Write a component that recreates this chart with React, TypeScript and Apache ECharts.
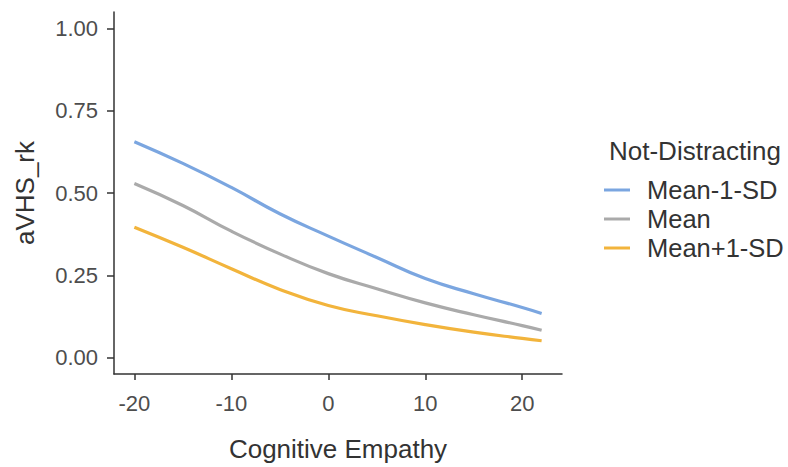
import React, { useEffect, useRef } from "react";
import * as echarts from "echarts";

const xValues = [-20, -15, -10, -5, 0, 5, 10, 15, 20, 22];
const meanMinus1SD = [0.656, 0.59, 0.517, 0.437, 0.369, 0.304, 0.24, 0.194, 0.152, 0.134];
const meanValues = [0.529, 0.462, 0.384, 0.315, 0.255, 0.209, 0.166, 0.13, 0.097, 0.083];
const meanPlus1SD = [0.396, 0.335, 0.27, 0.207, 0.158, 0.127, 0.1, 0.077, 0.058, 0.051];
const seriesNames = ["Mean-1-SD", "Mean", "Mean+1-SD"];
const seriesColors = ["#7BA6E0", "#AAAAAA", "#F2B43C"];
const xTicks = [-20, -10, 0, 10, 20];
const yTicks = [0, 0.25, 0.5, 0.75, 1];

export default function App() {
  const ref = useRef<HTMLDivElement>(null);
  useEffect(() => {
    if (!ref.current) return;
    const chart = echarts.init(ref.current, null, { renderer: "svg" });
    const allSeries = [meanMinus1SD, meanValues, meanPlus1SD];
    const font = "'Liberation Sans', Arial, sans-serif";
    chart.setOption({
      animation: false,
      backgroundColor: "#ffffff",
      grid: { left: 114, right: 226, top: 12, bottom: 82, containLabel: false },
      title: {
        text: "Not-Distracting",
        left: 609,
        top: 138,
        padding: 0,
        textStyle: { fontFamily: font, fontSize: 26, fontWeight: "normal", color: "#333333" },
      },
      legend: {
        orient: "vertical",
        left: 604,
        top: 176,
        padding: 0,
        icon: "rect",
        itemWidth: 26,
        itemHeight: 3,
        itemGap: 1,
        data: seriesNames,
        textStyle: { fontFamily: font, fontSize: 25.5, color: "#333333", lineHeight: 28, padding: [0, 0, 0, 12] },
      },
      xAxis: {
        type: "value",
        min: -22.1,
        max: 24.1,
        name: "Cognitive Empathy",
        nameLocation: "middle",
        nameGap: 62,
        nameTextStyle: { fontFamily: font, fontSize: 26, color: "#333333" },
        axisLine: { show: true, onZero: false, lineStyle: { color: "#333333", width: 1.5 } },
        axisTick: { show: true, length: 6, customValues: xTicks, lineStyle: { color: "#333333", width: 1.5 } },
        axisLabel: {
          customValues: xTicks,
          fontFamily: font,
          fontSize: 22,
          color: "#4D4D4D",
          margin: 18,
        },
        splitLine: { show: false },
      },
      yAxis: {
        type: "value",
        min: -0.05,
        max: 1.05,
        name: "aVHS_rk",
        nameLocation: "middle",
        nameGap: 76,
        nameTextStyle: { fontFamily: font, fontSize: 26, color: "#333333" },
        axisLine: { show: true, onZero: false, lineStyle: { color: "#333333", width: 1.5 } },
        axisTick: { show: true, length: 7, customValues: yTicks, lineStyle: { color: "#333333", width: 1.5 } },
        axisLabel: {
          customValues: yTicks,
          fontFamily: font,
          fontSize: 22,
          color: "#4D4D4D",
          margin: 16,
          formatter: (v: number) => v.toFixed(2),
        },
        splitLine: { show: false },
      },
      series: seriesNames.map((name, i) => ({
        name,
        type: "line",
        smooth: true,
        symbol: "none",
        color: seriesColors[i],
        lineStyle: { width: 3.2, color: seriesColors[i] },
        data: xValues.map((x, j) => [x, allSeries[i][j]]),
      })),
    });
    return () => chart.dispose();
  }, []);
  return (
    <div
      ref={ref}
      style={{ position: "fixed", left: 0, top: 0, width: 788, height: 467, overflow: "hidden" }}
    />
  );
}
